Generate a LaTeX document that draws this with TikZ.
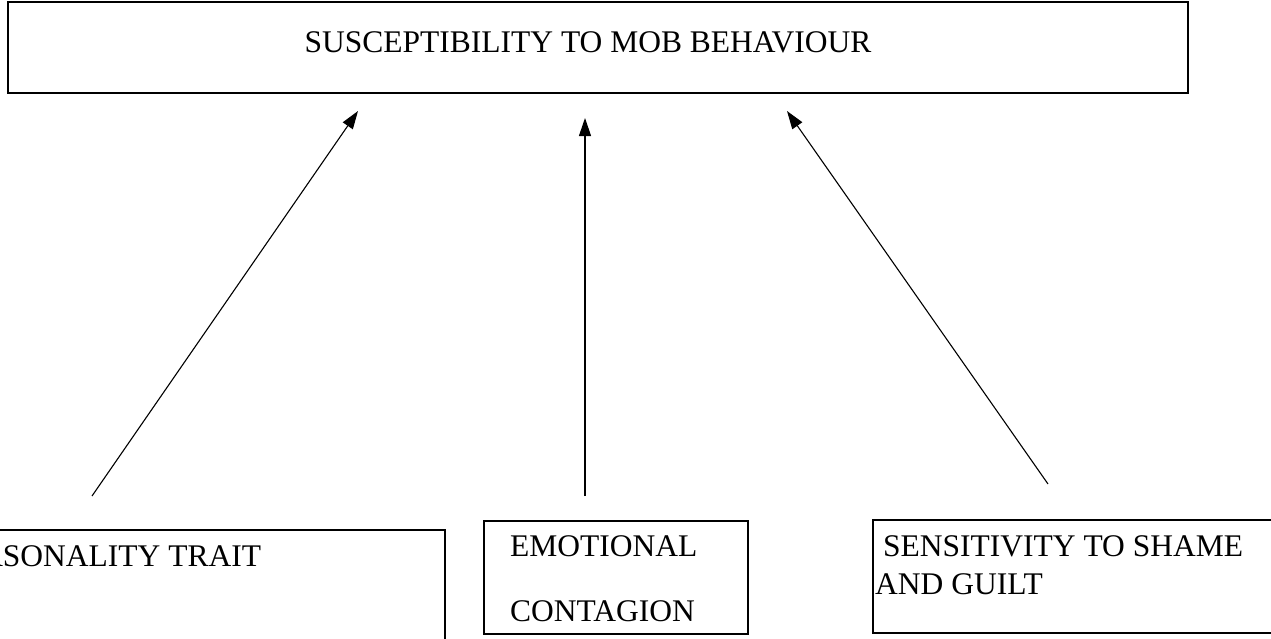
\documentclass[tikz,border=0pt]{standalone}
\usepackage{fontspec}
\setmainfont{Liberation Serif}
\usetikzlibrary{arrows.meta}
\begin{document}
\begin{tikzpicture}[x=1pt,y=-1pt,
  box/.style={draw=black,line width=1.1pt,rectangle,inner sep=0pt},
  lbl/.style={font=\fontsize{31.5}{36}\selectfont,inner sep=0pt,anchor=base west},
  conn/.style={draw=black,line width=1.1pt,-{Triangle[length=18pt,width=12pt]}}]
\useasboundingbox (0,0) rectangle (1271,638);
% top box
\node[box,minimum width=1180pt,minimum height=91pt] (top) at (598,47.5) {};
\node[lbl,anchor=base] (toptext) at (588,52) {SUSCEPTIBILITY TO MOB BEHAVIOUR};
% bottom boxes
\node[box,minimum width=460pt,minimum height=130pt] (left) at (215,595) {};
\node[lbl] (lefttext) at (-55,566) {PERSONALITY TRAIT};
\node[box,minimum width=264pt,minimum height=113pt] (mid) at (616,577.5) {};
\node[lbl] (midtext1) at (510,556) {EMOTIONAL};
\node[lbl] (midtext2) at (510,621) {CONTAGION};
\node[box,minimum width=410pt,minimum height=113pt] (right) at (1078,576.5) {};
\node[lbl] (righttext1) at (883,556) {SENSITIVITY TO SHAME};
\node[lbl] (righttext2) at (875,594) {AND GUILT};
% connectors
\coordinate (a1s) at (92,496);
\coordinate (a1e) at (358,111);
\coordinate (a2s) at (585,496);
\coordinate (a2e) at (585,118);
\coordinate (a3s) at (1048,484);
\coordinate (a3e) at (787,111);
\draw[conn] (a1s) -- (a1e);
\draw[conn] (a2s) -- (a2e);
\draw[conn] (a3s) -- (a3e);
\end{tikzpicture}
\end{document}
